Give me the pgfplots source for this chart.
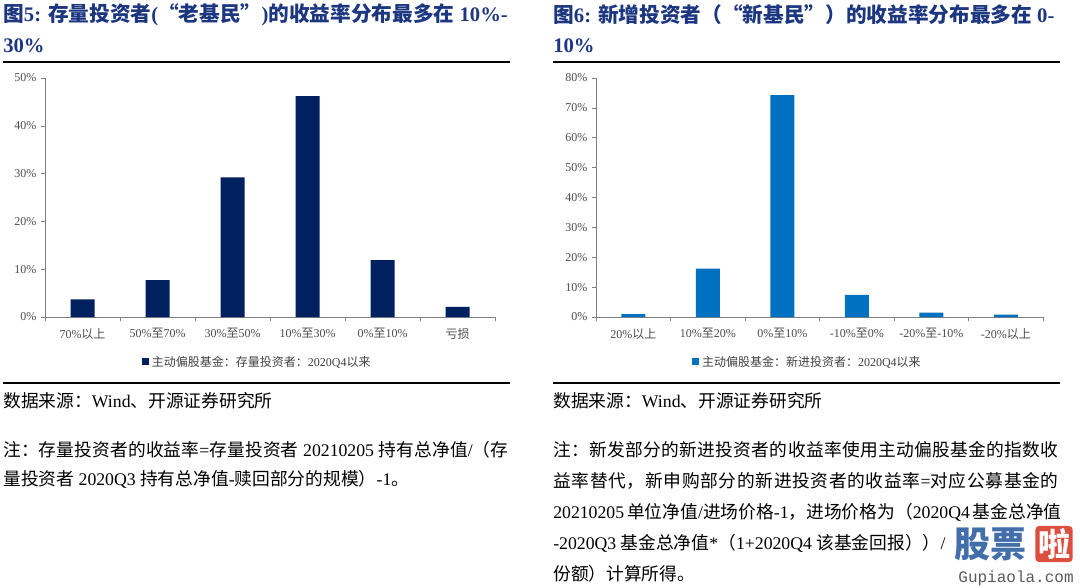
\documentclass[border=0pt]{standalone}
\usepackage{fontspec}
\setmainfont{Liberation Serif}
\newfontfamily\cjk{Noto Sans CJK SC}
\newfontfamily\wmmono{Liberation Mono}
\usepackage{pgfplots}
\pgfplotsset{compat=1.18}
\definecolor{navybar}{RGB}{0,32,96}
\definecolor{bluebar}{RGB}{0,112,192}
\definecolor{titleblue}{RGB}{28,54,128}
\definecolor{wmblue}{RGB}{66,110,170}
\definecolor{wmred}{RGB}{222,78,62}
\newcommand\zh[1]{{\cjk #1}}
% stretchable glue between CJK characters (for justified lines)
\XeTeXinterchartokenstate=1
\count255="4E00
\loop\XeTeXcharclass\count255=7 \ifnum\count255<"9FFF \advance\count255 by 1 \repeat
\count255="3000
\loop\XeTeXcharclass\count255=7 \ifnum\count255<"303F \advance\count255 by 1 \repeat
\count255="FF00
\loop\XeTeXcharclass\count255=7 \ifnum\count255<"FFEF \advance\count255 by 1 \repeat
\XeTeXinterchartoks 7 7 = {\hskip 0pt plus 0.15em\relax}
\newcommand\titlefont{\fontsize{15.5pt}{18pt}\selectfont\bfseries}
\newcommand\notefont{\fontsize{13.3pt}{16pt}\selectfont}
\newcommand\tickfont{\fontsize{9pt}{10pt}\selectfont}
\pgfplotsset{
  mychart/.style={
    scale only axis, anchor=south west,
    height=179.25pt,
    ymin=0,
    yticklabel={\pgfmathparse{int(round(\tick))}\pgfmathresult\%},
    xmin=-0.5, xmax=5.5,
    xtick={-0.5,0.5,...,5.5}, xticklabels={{},{},{},{},{},{},{}},
    extra x ticks={0,1,2,3,4,5},
    extra x tick style={major tick length=0pt, tick label style={yshift=-5pt}},
    axis x line*=bottom, axis y line*=left,
    axis line style={-, black!50},
    tick style={black!50, thin},
    tick align=outside, major tick length=3pt,
    tick label style={font=\tickfont, text=black!70},
    ybar, bar width=18pt,
    legend style={draw=none, fill=none, font=\tickfont, text=black!75,
      anchor=center, inner sep=1pt,
      /tikz/every even column/.append style={column sep=1pt}},
  }
}
\begin{document}
\begin{tikzpicture}[x=0.75pt,y=-0.75pt]
\path[use as bounding box] (0,0) rectangle (1080,587);
% titles
\node[anchor=west, inner sep=0, text=titleblue, font=\titlefont] at (3,15)
  {\zh{图}5: \zh{存量投资者}(\zh{“老基民”})\zh{的收益率分布最多在} 10\%-};
\node[anchor=west, inner sep=0, text=titleblue, font=\titlefont] at (3,46) {30\%};
\node[anchor=west, inner sep=0, text=titleblue, font=\titlefont] at (553,15)
  {\zh{图}6: \zh{新增投资者（“新基民”）的收益率分布最多在} 0-};
\node[anchor=west, inner sep=0, text=titleblue, font=\titlefont] at (553,46) {10\%};
% rules
\draw[line width=1.1pt] (3,62) -- (510,62);
\draw[line width=1.1pt] (553,62) -- (1060,62);
\draw[line width=1.1pt] (3,383) -- (510,383);
\draw[line width=1.1pt] (553,383) -- (1060,383);

\begin{axis}[mychart,
  at={(33.75pt,-237.75pt)}, width=337.5pt,
  ymax=50, ytick={0,10,20,30,40,50},
  extra x tick labels={{70\%\zh{以上}},{50\%\zh{至}70\%},{30\%\zh{至}50\%},{10\%\zh{至}30\%},{0\%\zh{至}10\%},{\zh{亏损}}},
  legend style={at={(0.473,-0.188)}},
]
\addplot[fill=navybar, draw=none, bar shift=0pt,
  legend image code/.code={\fill[navybar] (0pt,-2.6pt) rectangle (5.2pt,2.6pt);}]
  coordinates {(0,3.7) (1,7.7) (2,29.2) (3,46.2) (4,11.9) (5,2.1)};
\addlegendentry{\zh{主动偏股基金：存量投资者：}2020Q4\zh{以来}}
\end{axis}

\begin{axis}[mychart,
  at={(447pt,-237.75pt)}, width=335.25pt,
  ymax=80, ytick={0,10,20,30,40,50,60,70,80},
  extra x tick labels={{20\%\zh{以上}},{10\%\zh{至}20\%},{0\%\zh{至}10\%},{-10\%\zh{至}0\%},{-20\%\zh{至}-10\%},{-20\%\zh{以上}}},
  legend style={at={(0.474,-0.188)}},
]
\addplot[fill=bluebar, draw=none, bar shift=0pt,
  legend image code/.code={\fill[bluebar] (0pt,-2.6pt) rectangle (5.2pt,2.6pt);}]
  coordinates {(0,1.0) (1,16.2) (2,74.3) (3,7.4) (4,1.5) (5,0.8)};
\addlegendentry{\zh{主动偏股基金：新进投资者：}2020Q4\zh{以来}}
\end{axis}

% sources and notes
\node[anchor=west, inner sep=0, font=\notefont] at (3,401) {\zh{数据来源：}Wind\zh{、开源证券研究所}};
\node[anchor=west, inner sep=0, font=\notefont] at (553,401) {\zh{数据来源：}Wind\zh{、开源证券研究所}};
\node[anchor=west, inner sep=0, font=\notefont] at (3,450)
  {\makebox[378.75pt][s]{\zh{注：存量投资者的收益率}=\zh{存量投资者} 20210205 \zh{持有总净值}/\zh{（存}}};
\node[anchor=west, inner sep=0, font=\notefont] at (3,479)
  {\zh{量投资者} 2020Q3 \zh{持有总净值}-\zh{赎回部分的规模）}-1\zh{。}};
\node[anchor=west, inner sep=0, font=\notefont] at (553,450)
  {\makebox[379pt][s]{\zh{注：新发部分的新进投资者的收益率使用主动偏股基金的指数收}}};
\node[anchor=west, inner sep=0, font=\notefont] at (553,481)
  {\makebox[379pt][s]{\zh{益率替代，新申购部分的新进投资者的收益率}=\zh{对应公募基金的}}};
\node[anchor=west, inner sep=0, font=\notefont] at (553,512)
  {\makebox[379pt][s]{20210205 \zh{单位净值}/\zh{进场价格}-1\zh{，进场价格为（}2020Q4\ \zh{基金总净值}}};
\node[anchor=west, inner sep=0, font=\notefont] at (553,543)
  {-2020Q3 \zh{基金总净值}*\zh{（}1+2020Q4 \zh{该基金回报））}/\zh{（}};
\node[anchor=west, inner sep=0, font=\notefont] at (553,574)
  {\zh{份额）计算所得。}};
% watermark
\node[inner sep=0, text=wmblue, font=\cjk\bfseries\fontsize{27pt}{28pt}\selectfont] at (990,544) {股票};
\node[inner sep=2pt, fill=wmred, rounded corners=3pt, text=white, font=\cjk\bfseries\fontsize{24pt}{26pt}\selectfont] at (1054,544) {啦};
\node[inner sep=0, text=black!65, font=\wmmono\fontsize{12pt}{13pt}\selectfont] at (1016,578) {Gupiaola.com};
\end{tikzpicture}
\end{document}
